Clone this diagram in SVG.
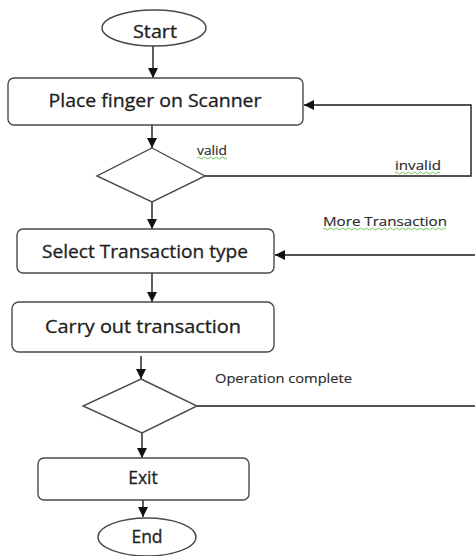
<svg xmlns="http://www.w3.org/2000/svg" width="475" height="556" viewBox="0 0 475 556">
  <style>
    .shape { fill: #ffffff; stroke: #4a4a4a; stroke-width: 1.4; }
    .conn { fill: none; stroke: #1a1a1a; stroke-width: 1.4; }
    .arrow { marker-end: url(#head); }
    .big { font-family: "Open Sans", "Liberation Sans", sans-serif; font-size: 17.5px; fill: #1e1e1e; stroke: #1e1e1e; stroke-width: 0.3; text-anchor: middle; }
    .small { font-family: "Open Sans", "Liberation Sans", sans-serif; font-size: 12.5px; fill: #2b2b2b; stroke: #2b2b2b; stroke-width: 0.15; }
    .squiggle { fill: none; stroke: #5fbf4a; stroke-width: 0.9; }
  </style>
  <defs>
    <marker id="head" viewBox="0 0 10 10" refX="10" refY="5" markerWidth="10" markerHeight="10" markerUnits="userSpaceOnUse" orient="auto">
      <path d="M0,0 L10,5 L0,10 Z" fill="#111111"/>
    </marker>
  </defs>

  <!-- connectors -->
  <g id="connectors">
    <path class="conn arrow" d="M153,46 V78"/>
    <path class="conn arrow" d="M152,125 V148"/>
    <!-- invalid: back to the scanner step -->
    <path class="conn arrow" d="M205,176 H471 V105 H304"/>
    <path class="conn arrow" d="M152,202 V229"/>
    <!-- more transactions: back to transaction selection -->
    <path class="conn arrow" d="M475,255 H275"/>
    <path class="conn arrow" d="M152,273 V302"/>
    <path class="conn arrow" d="M141,356 V379"/>
    <path class="conn" d="M197,406 H475"/>
    <path class="conn arrow" d="M142,433 V458"/>
    <path class="conn arrow" d="M143,500 V517"/>
  </g>

  <g id="start">
    <ellipse class="shape" cx="154" cy="28" rx="52" ry="18"/>
    <text class="big" x="155" y="38" textLength="44" lengthAdjust="spacingAndGlyphs">Start</text>
  </g>

  <g id="place-finger">
    <rect class="shape" x="8" y="78" width="295" height="47" rx="6"/>
    <text class="big" x="155" y="107" textLength="213" lengthAdjust="spacingAndGlyphs">Place finger on Scanner</text>
  </g>

  <g id="verify">
    <polygon class="shape" points="152,148 205,176 152,202 97,176"/>
  </g>

  <g id="select-type">
    <rect class="shape" x="17" y="229" width="257" height="44" rx="6"/>
    <text class="big" x="145" y="258" textLength="206" lengthAdjust="spacingAndGlyphs">Select Transaction type</text>
  </g>

  <g id="carry-out">
    <rect class="shape" x="12" y="302" width="262" height="50" rx="7"/>
    <text class="big" x="143" y="333" textLength="196" lengthAdjust="spacingAndGlyphs">Carry out transaction</text>
  </g>

  <g id="complete-check">
    <polygon class="shape" points="141,379 197,406 142,433 83,406"/>
  </g>

  <g id="exit">
    <rect class="shape" x="38" y="458" width="211" height="42" rx="6"/>
    <text class="big" x="143" y="484">Exit</text>
  </g>

  <g id="end">
    <ellipse class="shape" cx="147" cy="537" rx="49" ry="19"/>
    <text class="big" x="147" y="543">End</text>
  </g>

  <!-- branch labels -->
  <g id="labels">
    <text class="small" x="197" y="155" textLength="30" lengthAdjust="spacingAndGlyphs">valid</text>
    <path class="squiggle" d="M197,158 q1.5,-2 3,0 t3,0 t3,0 t3,0 t3,0 t3,0 t3,0 t3,0 t3,0 t3,0"/>
    <text class="small" x="395" y="170" textLength="46" lengthAdjust="spacingAndGlyphs">invalid</text>
    <path class="squiggle" d="M395,173 q1.5,-2 3,0 t3,0 t3,0 t3,0 t3,0 t3,0 t3,0 t3,0 t3,0 t3,0 t3,0 t3,0 t3,0 t3,0 t3,0"/>
    <text class="small" x="323" y="226" textLength="124" lengthAdjust="spacingAndGlyphs">More  Transaction</text>
    <path class="squiggle" d="M323,229 q1.5,-2 3,0 t3,0 t3,0 t3,0 t3,0 t3,0 t3,0 t3,0 t3,0 t3,0 t3,0 t3,0 t3,0 t3,0 t3,0 t3,0 t3,0 t3,0 t3,0 t3,0 t3,0 t3,0 t3,0 t3,0 t3,0 t3,0 t3,0 t3,0 t3,0 t3,0 t3,0 t3,0 t3,0 t3,0 t3,0 t3,0 t3,0 t3,0 t3,0 t3,0 t3,0"/>
    <text class="small" x="215" y="383" textLength="137" lengthAdjust="spacingAndGlyphs">Operation complete</text>
  </g>
</svg>
